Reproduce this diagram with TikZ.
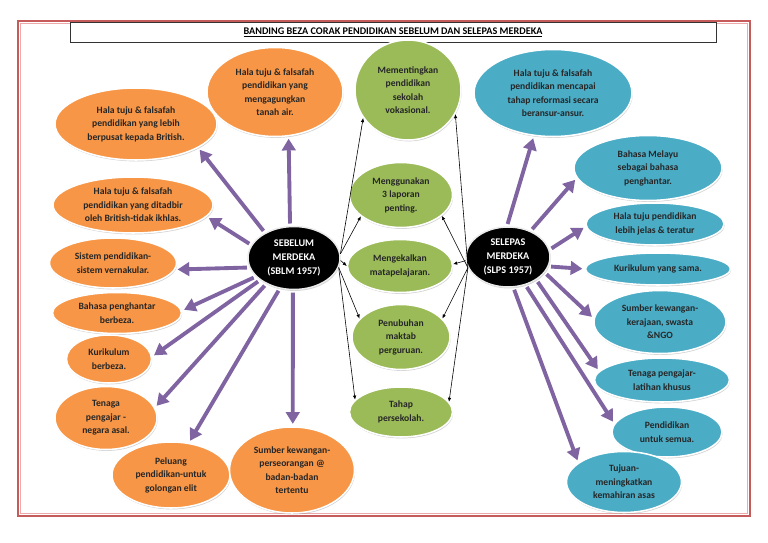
\documentclass[tikz,border=0pt]{standalone}
\usepackage{fontspec}
\setmainfont{Carlito}
\usetikzlibrary{shapes.geometric,arrows.meta,shadows}
\definecolor{ornode}{HTML}{F79646}
\definecolor{grnode}{HTML}{9BBB59}
\definecolor{blnode}{HTML}{4BACC6}
\definecolor{arrowpurple}{HTML}{8064A2}
\definecolor{framered}{HTML}{C65B5B}
\definecolor{framepink}{HTML}{EBA9A9}
\begin{document}
\begin{tikzpicture}[x=0.03cm,y=-0.03cm,
    ell/.style 2 args={ellipse,minimum width=#1*0.03cm,minimum height=#2*0.03cm,
      inner sep=0pt,align=center,draw=white,line width=1.3pt,
      font=\fontsize{8.2}{11.5}\selectfont\bfseries,
      drop shadow={shadow xshift=0.6pt,shadow yshift=-1.2pt,opacity=0.35}},
    orangeell/.style={fill=ornode,text=black!85},
    greenell/.style={fill=grnode,text=black!85},
    blueell/.style={fill=blnode,text=black!85},
    hub/.style={fill=black,text=white,draw=black!8,font=\fontsize{8.7}{12}\selectfont\bfseries},
    fat/.style={draw=arrowpurple,line width=3.3pt,shorten <=2pt,shorten >=2pt,
      -{Triangle[width=11.5pt,length=10pt]}},
    link/.style={draw=black,line width=0.5pt,-{Latex[length=3.5pt,width=3pt]}}]
  \useasboundingbox (0,0) rectangle (768,543);
  \draw[framered,line width=1.3pt] (18,21) rectangle (750,516);
  \draw[framepink,line width=1.2pt] (20.5,23.5) rectangle (747.5,513.5);

  \node[draw=black!80,fill=white,line width=0.6pt,minimum width=646*0.03cm,minimum height=20*0.03cm,
    drop shadow={shadow xshift=1pt,shadow yshift=-1pt,opacity=0.5},
    font=\fontsize{8.7}{10}\selectfont\bfseries] (title) at (393,32)
    {\underline{BANDING BEZA CORAK PENDIDIKAN SEBELUM DAN SELEPAS MERDEKA}};

  \node[ell={92}{63},hub] (sblm) at (294,258) {SEBELUM\\MERDEKA\\(SBLM 1957)};
  \node[ell={84}{60},hub] (slps) at (508,257) {SELEPAS\\MERDEKA\\(SLPS 1957)};

  \node[ell={136}{89},orangeell] (a1) at (275,92) {Hala tuju \& falsafah\\pendidikan yang\\mengagungkan\\tanah air.};
  \node[ell={162}{72},orangeell] (a2) at (136,124) {Hala tuju \& falsafah\\pendidikan yang lebih\\berpusat kepada British.};
  \node[ell={160}{56},orangeell] (a3) at (133,205) {Hala tuju \& falsafah\\pendidikan yang ditadbir\\oleh British-tidak ikhlas.};
  \node[ell={127}{50},orangeell] (a4) at (113,263) {Sistem pendidikan-\\sistem vernakular.};
  \node[ell={129}{41},orangeell] (a5) at (117,313) {Bahasa penghantar\\berbeza.};
  \node[ell={85}{48},orangeell] (a6) at (109,359) {Kurikulum\\berbeza.};
  \node[ell={102}{63},orangeell] (a7) at (106,418) {Tenaga\\pengajar -\\negara asal.};
  \node[ell={118}{66},orangeell] (a8) at (171,475) {Peluang\\pendidikan-untuk\\golongan elit};
  \node[ell={125}{86},orangeell] (a9) at (292,470) {Sumber kewangan-\\perseorangan @\\badan-badan\\tertentu};

  \node[ell={106}{100},greenell] (m1) at (408,90) {Mementingkan\\pendidikan\\sekolah\\vokasional.};
  \node[ell={103}{65},greenell] (m2) at (401,195) {Menggunakan\\3 laporan\\penting.};
  \node[ell={105}{53},greenell] (m3) at (400,266) {Mengekalkan\\matapelajaran.};
  \node[ell={98}{65},greenell] (m4) at (401,337) {Penubuhan\\maktab\\perguruan.};
  \node[ell={103}{50},greenell] (m5) at (401,412) {Tahap\\persekolah.};

  \node[ell={158}{87},blueell] (b1) at (553,93) {Hala tuju \& falsafah\\pendidikan mencapai\\tahap reformasi secara\\beransur-ansur.};
  \node[ell={148}{65},blueell] (b2) at (648,168) {Bahasa Melayu\\sebagai bahasa\\penghantar.};
  \node[ell={138}{42},blueell] (b3) at (655,224) {Hala tuju pendidikan\\lebih jelas \& teratur};
  \node[ell={145}{32},blueell] (b4) at (658,269) {Kurikulum yang sama.};
  \node[ell={132}{63},blueell] (b5) at (660,322) {Sumber kewangan-\\kerajaan, swasta\\\&NGO};
  \node[ell={135}{44},blueell] (b6) at (662,380) {Tenaga pengajar-\\latihan khusus};
  \node[ell={110}{50},blueell] (b7) at (667,432) {Pendidikan\\untuk semua.};
  \node[ell={115}{61},blueell] (b8) at (624,482) {Tujuan-\\meningkatkan\\kemahiran asas};

  \draw[fat] (sblm.97) -- (a1.-73);
  \draw[fat] (sblm.139) -- (a2.-21);
  \draw[fat] (sblm.163) -- (a3.-9);
  \draw[fat] (sblm.192) -- (a4.-6);
  \draw[fat] (sblm.206) -- (a5.2);
  \draw[fat] (sblm.213) -- (a6.3);
  \draw[fat] (sblm.223) -- (a7.12);
  \draw[fat] (sblm.245) -- (a8.61);
  \draw[fat] (sblm.268) -- (a9.89);

  \draw[fat] (slps.92) -- (b1.246);
  \draw[fat] (slps.49) -- (b2.188);
  \draw[fat] (slps.10) -- (b3.182);
  \draw[fat] (slps.-13) -- (b4.180);
  \draw[fat] (slps.-23) -- (b5.177);
  \draw[fat] (slps.-39) -- (b6.172);
  \draw[fat] (slps.-58) -- (b7.171);
  \draw[fat] (slps.-80) -- (b8.157);

  \draw[link] (sblm.5) -- (m1.212);
  \draw[link] (sblm.5) -- (m2.208);
  \draw[link] (sblm.-3) -- (m3.180);
  \draw[link] (sblm.-12) -- (m4.156);
  \draw[link] (sblm.-12) -- (m5.165);
  \draw[link] (slps.195) -- (m1.-27);
  \draw[link] (slps.195) -- (m2.-27);
  \draw[link] (slps.185) -- (m3.2);
  \draw[link] (slps.195) -- (m4.24);
  \draw[link] (slps.195) -- (m5.12);
\end{tikzpicture}
\end{document}
